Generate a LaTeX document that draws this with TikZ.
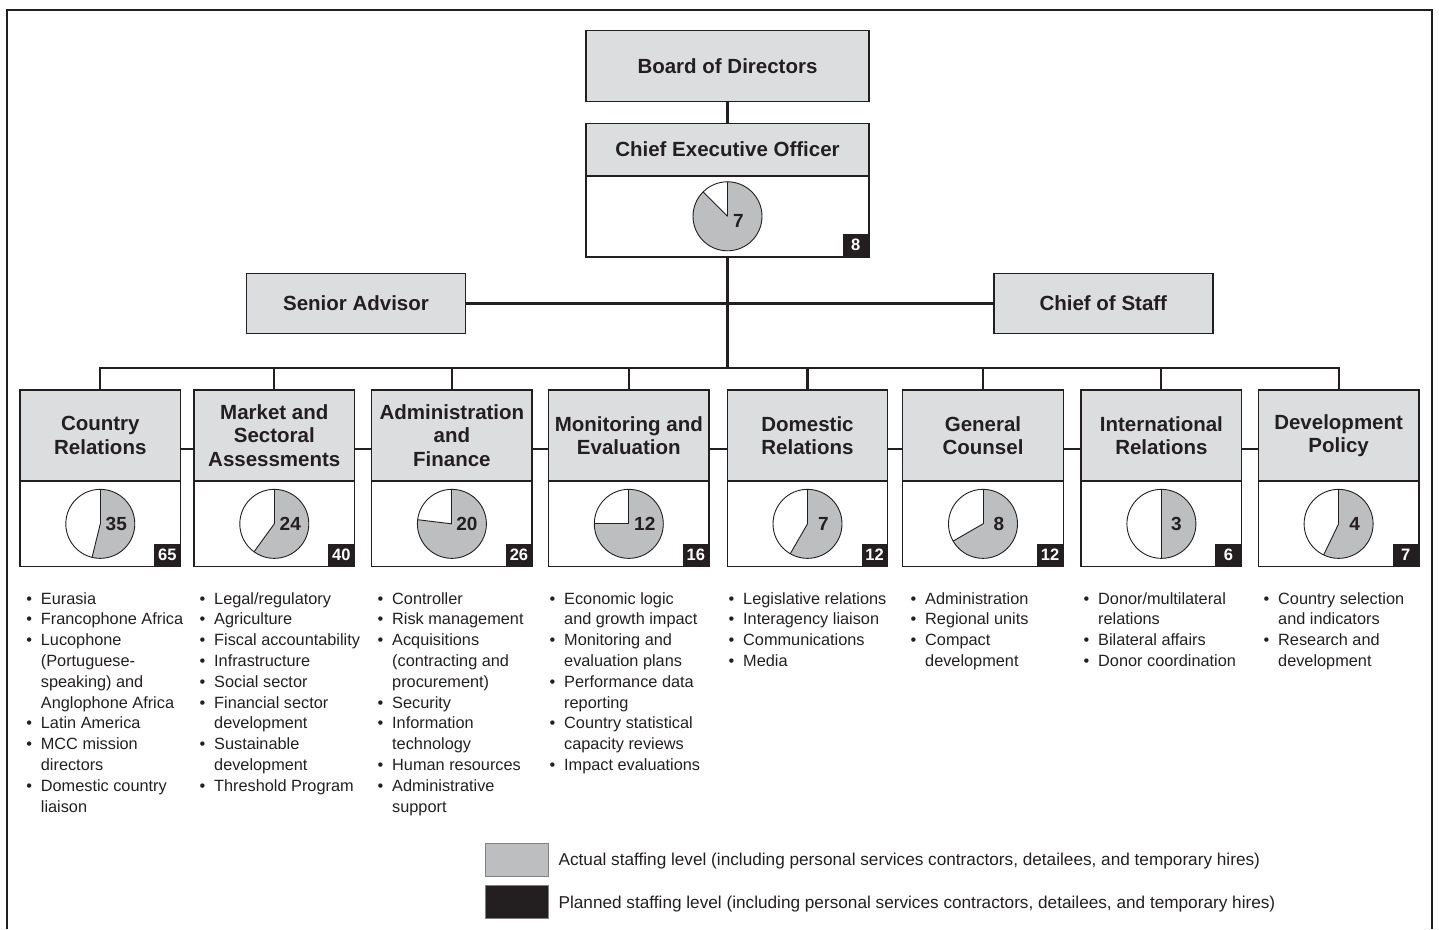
\documentclass[tikz,border=0pt]{standalone}
\usepackage{fontspec}
\setmainfont{Liberation Sans}
\usetikzlibrary{positioning,calc}

\definecolor{boxgray}{HTML}{DCDDDF}
\definecolor{piegray}{HTML}{BCBEC0}
\definecolor{inkdark}{HTML}{231F20}

% bullet and hanging indent for the duty lists
\newcommand{\blt}{\strut\makebox[14.5pt][l]{\textbullet}}
\newcommand{\ind}{\strut\hspace*{14.5pt}}

% pie of actual against planned staff: box, actual, planned, shift of the number
\newcommand{\staffpie}[4]
{
	\fill[piegray] (#1.center) -- ++(90:34.5pt) arc[start angle=90, delta angle=-360*#2/#3, radius=34.5pt] -- cycle;
	\draw[pieline] (#1.center) -- ++(90:34.5pt);
	\draw[pieline] (#1.center) -- ++({90-360*#2/#3}:34.5pt);
	\draw[pieline] (#1.center) circle[radius=34.5pt];
	\node[pienum] (#1num) at ([shift={(#4)}]#1.center) {#2};
}

\begin{document}
\begin{tikzpicture}
[
	x	= 1pt,	% one unit per pixel of the sketch
	y	= -1pt,	% counted downwards
	%
	%
	% ----------- options for the boxes --------------
	headbox/.style =
	{
		draw		= inkdark,
		line width	= 1.4pt,
		fill		= boxgray,
		text		= inkdark,
		font		= \fontsize{20.5}{23.5}\selectfont\bfseries,
		align		= center,
		inner sep	= 0pt,
		outer sep	= 0pt
	},
	%
	staffbox/.style =
	{
		draw		= inkdark,
		line width	= 1.4pt,
		fill		= white,
		inner sep	= 0pt,
		outer sep	= 0pt
	},
	%
	deptbox/.style =
	{
		minimum width	= 160.5pt,
		minimum height	= 91pt,
		anchor			= north
	},
	%
	deptstaff/.style =
	{
		minimum width	= 160.5pt,
		minimum height	= 85.7pt
	},
	%
	badge/.style =
	{
		fill			= inkdark,
		text			= white,
		font			= \fontsize{16.5}{18}\selectfont\bfseries,
		minimum width	= 26pt,
		minimum height	= 23pt,
		inner sep		= 0pt,
		anchor			= south east
	},
	%
	pieline/.style =
	{
		draw		= inkdark,
		line width	= 0.9pt
	},
	%
	pienum/.style =
	{
		text		= inkdark,
		font		= \fontsize{19}{21}\selectfont\bfseries,
		inner sep	= 0pt
	},
	%
	duties/.style =
	{
		anchor		= north west,
		align		= left,
		inner sep	= 0pt,
		text		= inkdark,
		font		= \fontsize{16.3}{20.8}\selectfont
	},
	%
	% ----------- options for the lines --------------
	link/.style =
	{
		draw		= inkdark,
		line width	= 2.1pt
	},
	%
	frame/.style =
	{
		draw		= inkdark,
		line width	= 1.2pt
	},
	%
	% ----------- options for the key --------------
	keybox/.style =
	{
		draw			= gray,
		line width		= 0.8pt,
		minimum width	= 63pt,
		minimum height	= 33pt,
		inner sep		= 0pt
	},
	%
	keytext/.style =
	{
		text		= inkdark,
		font		= \fontsize{17.2}{20}\selectfont,
		inner sep	= 0pt,
		yshift		= -2pt
	}
]

\useasboundingbox (0,0) rectangle (1439,929);

% frame, open at the bottom
\draw[frame] (7,929) -- (7,10) -- (1432,10) -- (1432,929);

% top of the chart
\node[headbox, minimum width=283pt, minimum height=71pt] (board) at (727.5,66) {Board of Directors};
\node[headbox, minimum width=283pt, minimum height=52.5pt, anchor=north] (ceo) at (727.5,123.3) {Chief Executive Officer};
\node[staffbox, minimum width=283pt, minimum height=81pt, below=0pt of ceo] (ceostaff) {};

\node[headbox, minimum width=219pt, minimum height=60.5pt] (advisor) at (356,303.5) {Senior Advisor};
\node[headbox, minimum width=219pt, minimum height=60.5pt] (chiefstaff) at (1103.3,303.5) {Chief of Staff};

% offices
\node[headbox, deptbox] (country) at (100.3,390) {Country\\Relations};
\node[headbox, deptbox] (market) at (274.3,390) {Market and\\Sectoral\\Assessments};
\node[headbox, deptbox] (finance) at (451.9,390) {Administration\\and\\Finance};
\node[headbox, deptbox] (evaluation) at (628.8,390) {Monitoring and\\Evaluation};
\node[headbox, deptbox] (domestic) at (807.5,390) {Domestic\\Relations};
\node[headbox, deptbox] (counsel) at (983,390) {General\\Counsel};
\node[headbox, deptbox] (international) at (1161.4,390) {International\\Relations};
\node[headbox, deptbox] (policy) at (1338.6,390) {Development\\Policy};

% connectors
\coordinate (bus) at (727.5,368.3);
\draw[link] (board) -- (ceo);
\draw[link] (advisor) -- (chiefstaff);
\draw[link] (ceostaff) -- (bus);
\draw[link] (country.north) |- (bus) -| (policy.north);
\foreach \dept in {market, finance, evaluation, domestic, counsel, international}
	\draw[link] (\dept.north) -- (\dept.north |- bus);
\foreach \da/\db in {country/market, market/finance, finance/evaluation, evaluation/domestic, domestic/counsel, counsel/international, international/policy}
	\draw[link] ([yshift=-13.5pt]\da.east) -- ([yshift=-13.5pt]\db.west);

% staff boxes, pies and planned numbers
\node[staffbox, deptstaff, below=0pt of country] (countrystaff) {};
\node[staffbox, deptstaff, below=0pt of market] (marketstaff) {};
\node[staffbox, deptstaff, below=0pt of finance] (financestaff) {};
\node[staffbox, deptstaff, below=0pt of evaluation] (evaluationstaff) {};
\node[staffbox, deptstaff, below=0pt of domestic] (domesticstaff) {};
\node[staffbox, deptstaff, below=0pt of counsel] (counselstaff) {};
\node[staffbox, deptstaff, below=0pt of international] (internationalstaff) {};
\node[staffbox, deptstaff, below=0pt of policy] (policystaff) {};

\staffpie{ceostaff}{7}{8}{11pt,-5pt}
\staffpie{countrystaff}{35}{65}{16pt,0pt}
\staffpie{marketstaff}{24}{40}{16pt,0pt}
\staffpie{financestaff}{20}{26}{15pt,0pt}
\staffpie{evaluationstaff}{12}{16}{16pt,0pt}
\staffpie{domesticstaff}{7}{12}{16pt,0pt}
\staffpie{counselstaff}{8}{12}{16pt,0pt}
\staffpie{internationalstaff}{3}{6}{15pt,0pt}
\staffpie{policystaff}{4}{7}{16pt,0pt}

\node[badge] (ceoplan) at (ceostaff.south east) {8};
\node[badge] (countryplan) at (countrystaff.south east) {65};
\node[badge] (marketplan) at (marketstaff.south east) {40};
\node[badge] (financeplan) at (financestaff.south east) {26};
\node[badge] (evaluationplan) at (evaluationstaff.south east) {16};
\node[badge] (domesticplan) at (domesticstaff.south east) {12};
\node[badge] (counselplan) at (counselstaff.south east) {12};
\node[badge] (internationalplan) at (internationalstaff.south east) {6};
\node[badge] (policyplan) at (policystaff.south east) {7};

% duty lists
\node[duties] (countryduties) at (26.2,589.4)
{
	\blt Eurasia\\
	\blt Francophone Africa\\
	\blt Lucophone\\
	\ind (Portuguese-\\
	\ind speaking) and\\
	\ind Anglophone Africa\\
	\blt Latin America\\
	\blt MCC mission\\
	\ind directors\\
	\blt Domestic country\\
	\ind liaison
};
\node[duties] (marketduties) at (199.5,589.4)
{
	\blt Legal/regulatory\\
	\blt Agriculture\\
	\blt Fiscal accountability\\
	\blt Infrastructure\\
	\blt Social sector\\
	\blt Financial sector\\
	\ind development\\
	\blt Sustainable\\
	\ind development\\
	\blt Threshold Program
};
\node[duties] (financeduties) at (377.5,589.4)
{
	\blt Controller\\
	\blt Risk management\\
	\blt Acquisitions\\
	\ind (contracting and\\
	\ind procurement)\\
	\blt Security\\
	\blt Information\\
	\ind technology\\
	\blt Human resources\\
	\blt Administrative\\
	\ind support
};
\node[duties] (evaluationduties) at (549.5,589.4)
{
	\blt Economic logic\\
	\ind and growth impact\\
	\blt Monitoring and\\
	\ind evaluation plans\\
	\blt Performance data\\
	\ind reporting\\
	\blt Country statistical\\
	\ind capacity reviews\\
	\blt Impact evaluations
};
\node[duties] (domesticduties) at (728.5,589.4)
{
	\blt Legislative relations\\
	\blt Interagency liaison\\
	\blt Communications\\
	\blt Media
};
\node[duties] (counselduties) at (910.5,589.4)
{
	\blt Administration\\
	\blt Regional units\\
	\blt Compact\\
	\ind development
};
\node[duties] (internationalduties) at (1083.5,589.4)
{
	\blt Donor/multilateral\\
	\ind relations\\
	\blt Bilateral affairs\\
	\blt Donor coordination
};
\node[duties] (policyduties) at (1263.5,589.4)
{
	\blt Country selection\\
	\ind and indicators\\
	\blt Research and\\
	\ind development
};

% key
\node[keybox, fill=piegray] (actualkey) at (516.5,859.5) {};
\node[keytext, right=10pt of actualkey] (actualtext) {Actual staffing level (including personal services contractors, detailees, and temporary hires)};
\node[keybox, fill=inkdark] (plannedkey) at (516.5,902) {};
\node[keytext, right=10pt of plannedkey] (plannedtext) {Planned staffing level (including personal services contractors, detailees, and temporary hires)};

\end{tikzpicture}
\end{document}
